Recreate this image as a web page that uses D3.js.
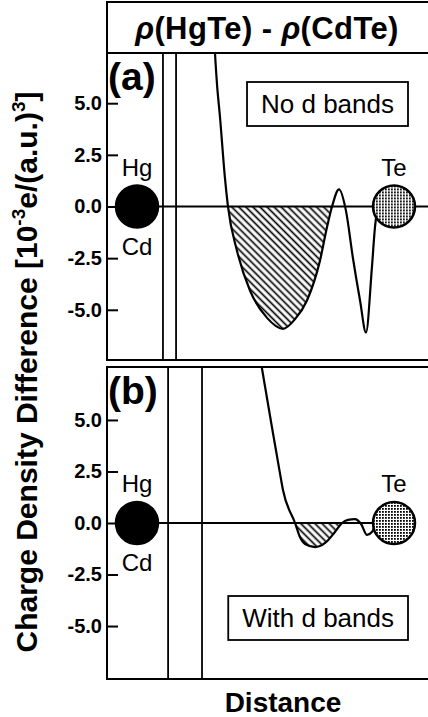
<!DOCTYPE html>
<html>
<head>
<meta charset="utf-8">
<script src="https://cdn.jsdelivr.net/npm/d3@7/dist/d3.min.js"></script>
<style>
  html, body { margin: 0; padding: 0; background: #fff; }
  svg { display: block; font-family: "Liberation Sans", Arial, Helvetica, sans-serif; }
  .frame { fill: none; stroke: #000; stroke-width: 2; }
  .curve { fill: none; stroke: #000; stroke-width: 2.2; }
  .zero-line, .core-line { stroke: #000; stroke-width: 1.8; }
  .axis text { font-size: 20px; font-weight: bold; fill: #000; }
  .axis line { stroke: #000; stroke-width: 2; }
  .note-box { fill: #fff; stroke: #000; stroke-width: 1.8; }
  .note { font-size: 26px; }
  .atom-label { font-size: 24px; }
  .panel-label { font-size: 39px; font-weight: bold; }
</style>
</head>
<body>
<svg id="chart" width="428" height="717"></svg>
<script>
const d3 = window.d3;

// distance measured in units of the cation–Te separation (cation = 0, Te = 1)
const tickValues = [-5, -2.5, 0, 2.5, 5];
const panelLabels = ["(a)", "(b)"];
const panelNotes = ["No d bands", "With d bands"];

const atomPositions = [0, 1];
const atomLabelsAbove = ["Hg", "Te"];
const atomLabelsBelow = ["Cd", ""];

const distanceA = [0.296, 0.3035, 0.311, 0.323, 0.342, 0.354, 0.389, 0.44, 0.506, 0.568,
  0.615, 0.661, 0.712, 0.739, 0.759, 0.786, 0.813, 0.84, 0.868, 0.891, 0.914, 0.926, 0.934];
const densityA = [9.5, 7.43, 5.97, 4.32, 1.41, 0, -2.14, -4.08, -5.39, -5.92,
  -5.45, -4.56, -2.62, -1.02, 0, 0.83, -0.2, -2.48, -4.56, -6.1, -2.96, -1.0, -0.2];

const distanceB = [0.459, 0.486, 0.525, 0.556, 0.568, 0.615, 0.634, 0.654, 0.693, 0.732,
  0.77, 0.798, 0.821, 0.848, 0.872, 0.895, 0.914, 0.926];
const densityB = [9.5, 7.52, 4.66, 2.43, 1.6, 0, -0.68, -1.02, -1.17, -0.97,
  -0.44, 0, 0.15, 0.19, -0.05, -0.58, -0.44, -0.1];

const coreLinesA = [0.101, 0.152];
const coreLinesB = [0.121, 0.253];
const hatchRangeA = [0.354, 0.759];
const hatchRangeB = [0.615, 0.798];
const zeroEndA = 1.3;
const zeroEndB = 1.0;
const yDomainA = [-7.43, 7.43];
const yDomainB = [-7.57, 7.57];

const frameLeft = 107;
const frameRight = 432;
const titleTop = 2;
const titleBottom = 53;
const atomRadius = 21;

const svg = d3.select("#chart");
const defs = svg.append("defs");

const xScale = d3.scaleLinear().domain([0, 1]).range([137, 394]);

defs.append("pattern")
  .attr("id", "hatch")
  .attr("patternUnits", "userSpaceOnUse")
  .attr("width", 5)
  .attr("height", 5)
  .attr("patternTransform", "rotate(45)")
  .append("line")
  .attr("x1", 0).attr("y1", 2.5)
  .attr("x2", 5).attr("y2", 2.5)
  .attr("stroke", "#000")
  .attr("stroke-width", 1.7);

const stipple = defs.append("pattern")
  .attr("id", "stipple")
  .attr("patternUnits", "userSpaceOnUse")
  .attr("width", 3)
  .attr("height", 3);
stipple.append("rect").attr("width", 3).attr("height", 3).attr("fill", "#fff");
stipple.append("rect").attr("width", 1.8).attr("height", 1.8).attr("fill", "#000");

const panels = [
  {
    key: "a", top: titleBottom, bottom: 360,
    distance: distanceA, density: densityA, coreLines: coreLinesA,
    hatch: hatchRangeA, zeroEnd: zeroEndA, yDomain: yDomainA,
    label: panelLabels[0], note: panelNotes[0], noteBaseline: 113,
  },
  {
    key: "b", top: 367, bottom: 679,
    distance: distanceB, density: densityB, coreLines: coreLinesB,
    hatch: hatchRangeB, zeroEnd: zeroEndB, yDomain: yDomainB,
    label: panelLabels[1], note: panelNotes[1], noteBaseline: 627,
  },
];

// title box
svg.append("rect")
  .attr("class", "frame")
  .attr("x", frameLeft)
  .attr("y", titleTop)
  .attr("width", frameRight - frameLeft)
  .attr("height", titleBottom - titleTop);

const title = svg.append("text")
  .attr("x", 267)
  .attr("y", 39)
  .attr("text-anchor", "middle")
  .style("font-size", "31px")
  .style("font-weight", "bold")
  .style("letter-spacing", "0.4px");
title.append("tspan").style("font-style", "italic").text("ρ");
title.append("tspan").text("(HgTe) - ");
title.append("tspan").style("font-style", "italic").text("ρ");
title.append("tspan").text("(CdTe)");

panels.forEach((panel) => renderPanel(panel));

function renderPanel({ key, top, bottom, distance, density, coreLines, hatch, zeroEnd, yDomain, label, note, noteBaseline }) {
  const yScale = d3.scaleLinear().domain(yDomain).range([bottom, top]);
  const points = distance.map((d, i) => ({ d, v: density[i] }));
  const layer = svg.append("g").attr("class", `panel panel-${key}`);

  defs.append("clipPath")
    .attr("id", `clip-${key}`)
    .append("rect")
    .attr("x", frameLeft)
    .attr("y", top)
    .attr("width", frameRight - frameLeft)
    .attr("height", bottom - top);

  defs.append("clipPath")
    .attr("id", `hatch-clip-${key}`)
    .append("rect")
    .attr("x", xScale(hatch[0]))
    .attr("y", top)
    .attr("width", xScale(hatch[1]) - xScale(hatch[0]))
    .attr("height", bottom - top);

  const inner = layer.append("g").attr("clip-path", `url(#clip-${key})`);

  inner.append("line")
    .attr("class", "zero-line")
    .attr("x1", xScale(0))
    .attr("x2", xScale(zeroEnd))
    .attr("y1", yScale(0))
    .attr("y2", yScale(0));

  inner.selectAll(".core-line")
    .data(coreLines)
    .join("line")
    .attr("class", "core-line")
    .attr("x1", (d) => xScale(d))
    .attr("x2", (d) => xScale(d))
    .attr("y1", top)
    .attr("y2", bottom);

  const area = d3.area()
    .x((p) => xScale(p.d))
    .y0(yScale(0))
    .y1((p) => yScale(p.v))
    .curve(d3.curveMonotoneX);

  inner.append("path")
    .attr("clip-path", `url(#hatch-clip-${key})`)
    .attr("d", area(points))
    .attr("fill", "url(#hatch)");

  const line = d3.line()
    .x((p) => xScale(p.d))
    .y((p) => yScale(p.v))
    .curve(d3.curveMonotoneX);

  inner.append("path")
    .attr("class", "curve")
    .attr("d", line(points));

  const atoms = layer.selectAll(".atom")
    .data(atomPositions)
    .join("g")
    .attr("class", "atom")
    .attr("transform", (d) => `translate(${xScale(d)}, ${yScale(0)})`);

  atoms.append("circle")
    .attr("r", atomRadius)
    .attr("fill", (d, i) => (i === 0 ? "#000" : "url(#stipple)"))
    .attr("stroke", "#000")
    .attr("stroke-width", 2.5);

  atoms.append("text")
    .attr("class", "atom-label")
    .attr("text-anchor", "middle")
    .attr("y", -31)
    .text((d, i) => atomLabelsAbove[i]);

  atoms.append("text")
    .attr("class", "atom-label")
    .attr("text-anchor", "middle")
    .attr("y", 48)
    .text((d, i) => atomLabelsBelow[i]);

  const noteText = layer.append("text")
    .attr("class", "note")
    .attr("x", 394)
    .attr("y", noteBaseline)
    .attr("text-anchor", "end")
    .text(note);
  const bbox = noteText.node().getBBox();
  layer.insert("rect", ".note")
    .attr("class", "note-box")
    .attr("x", bbox.x - 14)
    .attr("y", bbox.y - 7)
    .attr("width", bbox.width + 28)
    .attr("height", bbox.height + 14);

  layer.append("text")
    .attr("class", "panel-label")
    .attr("x", 108)
    .attr("y", top + 37)
    .text(label);

  const axis = d3.axisLeft(yScale)
    .tickValues(tickValues)
    .tickSize(-11)
    .tickPadding(5)
    .tickFormat((d) => d.toFixed(1));

  const axisGroup = layer.append("g")
    .attr("class", "axis")
    .attr("transform", `translate(${frameLeft}, 0)`)
    .call(axis)
    .attr("font-family", null)
    .attr("font-size", null);
  axisGroup.select(".domain").remove();
  axisGroup.selectAll("text")
    .style("font-size", "20px")
    .style("font-weight", "bold");

  layer.append("rect")
    .attr("class", "frame")
    .attr("x", frameLeft)
    .attr("y", top)
    .attr("width", frameRight - frameLeft)
    .attr("height", bottom - top);
}

const yTitle = svg.append("text")
  .attr("transform", "translate(37, 372) rotate(-90)")
  .attr("text-anchor", "middle")
  .style("font-size", "30px")
  .style("font-weight", "bold");
yTitle.append("tspan").text("Charge Density Difference [10");
yTitle.append("tspan").attr("dy", -12).style("font-size", "19px").text("-3");
yTitle.append("tspan").attr("dy", 12).text("e/(a.u.)");
yTitle.append("tspan").attr("dy", -12).style("font-size", "19px").text("3");
yTitle.append("tspan").attr("dy", 12).text("]");

svg.append("text")
  .attr("x", 283)
  .attr("y", 712)
  .attr("text-anchor", "middle")
  .style("font-size", "28px")
  .style("font-weight", "bold")
  .text("Distance");
</script>
</body>
</html>
